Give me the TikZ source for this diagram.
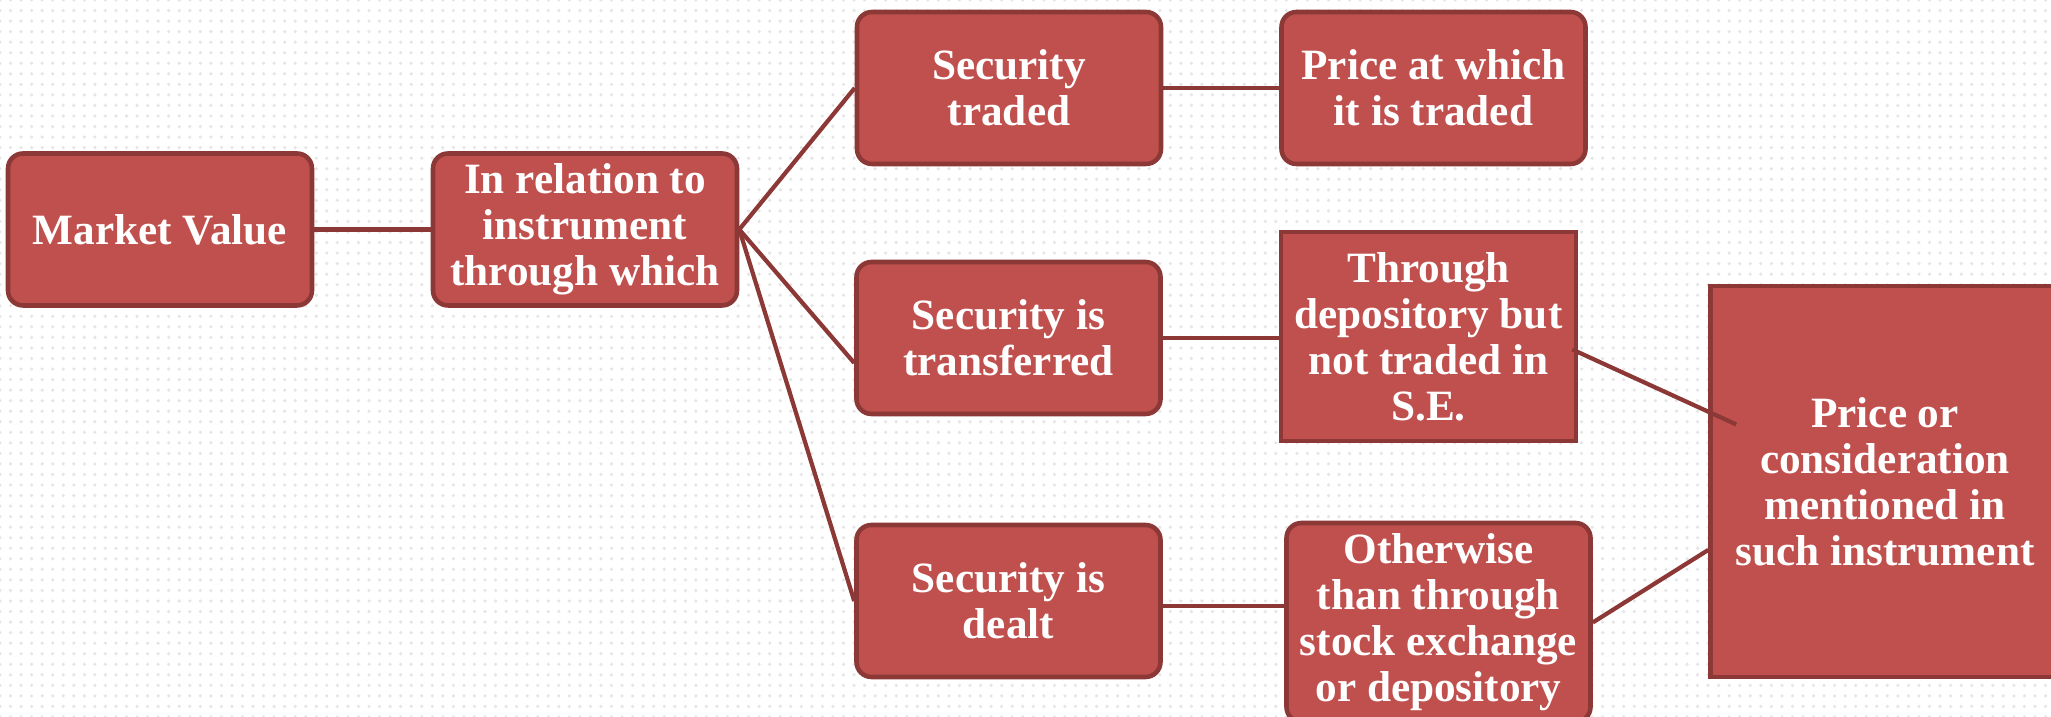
\documentclass[tikz,border=0pt]{standalone}
\usepackage{fontspec}
\setmainfont{Liberation Serif}
\usetikzlibrary{patterns}
\definecolor{boxred}{HTML}{C0504D}
\definecolor{boxline}{HTML}{8C3836}
\begin{document}
\begin{tikzpicture}
        [every node/.style={draw=boxline, fill=boxred, line width=1.3pt, text=white, align=center, inner sep=0pt,
          font=\bfseries\fontsize{12.3}{13.1}\selectfont},
         roundbox/.style={rounded corners=0.15cm, minimum width=3.04cm, minimum height=1.52cm},
         link/.style={draw=boxline, line width=1.2pt}]
      \fill[white] (0,0) rectangle (20.51,7.17);
      \fill[pattern=dots, pattern color=black!10] (0,0) rectangle (20.51,7.17);
      \useasboundingbox (0,0) rectangle (20.51,7.17);

      \node[roundbox] (mv) at (1.6,4.875) {Market Value};
      \node[roundbox] (rel) at (5.85,4.875) {In relation to\\instrument\\through which};
      \node[roundbox] (traded) at (10.09,6.29) {Security\\traded};
      \node[roundbox] (price) at (14.335,6.29) {Price at which\\it is traded};
      \node[roundbox] (trans) at (10.085,3.79) {Security is\\transferred};
      \node[minimum width=2.95cm, minimum height=2.09cm] (dep) at (14.285,3.805)
        {Through\\depository but\\not traded in\\S.E.};
      \node[roundbox] (dealt) at (10.085,1.16) {Security is\\dealt};
      \node[roundbox, minimum height=1.99cm] (other) at (14.385,0.945)
        {Otherwise\\than through\\stock exchange\\or depository};
      \node[minimum width=3.49cm, minimum height=3.91cm] (cons) at (18.85,2.355)
        {Price or\\consideration\\mentioned in\\such instrument};

      \foreach \from/\to in {mv/rel, rel/traded, rel/dealt, traded/price}
        \draw[link] (\from.east) -- (\to.west);
      \draw[link] (rel.east) -- ([yshift=-0.25cm]trans.west);
      \draw[link] (trans.east) -- (trans.east -| dep.west);
      \draw[link] ([yshift=-0.05cm]dealt.east) -- ([yshift=-0.05cm]dealt.east -| other.west);
      \draw[link] ([shift={(-0.06,-0.13)}]dep.east) -- ([shift={(0.28,0.57)}]cons.west);
      \draw[link] (other.east) -- ([yshift=-0.685cm]cons.west);
    \end{tikzpicture}
\end{document}
